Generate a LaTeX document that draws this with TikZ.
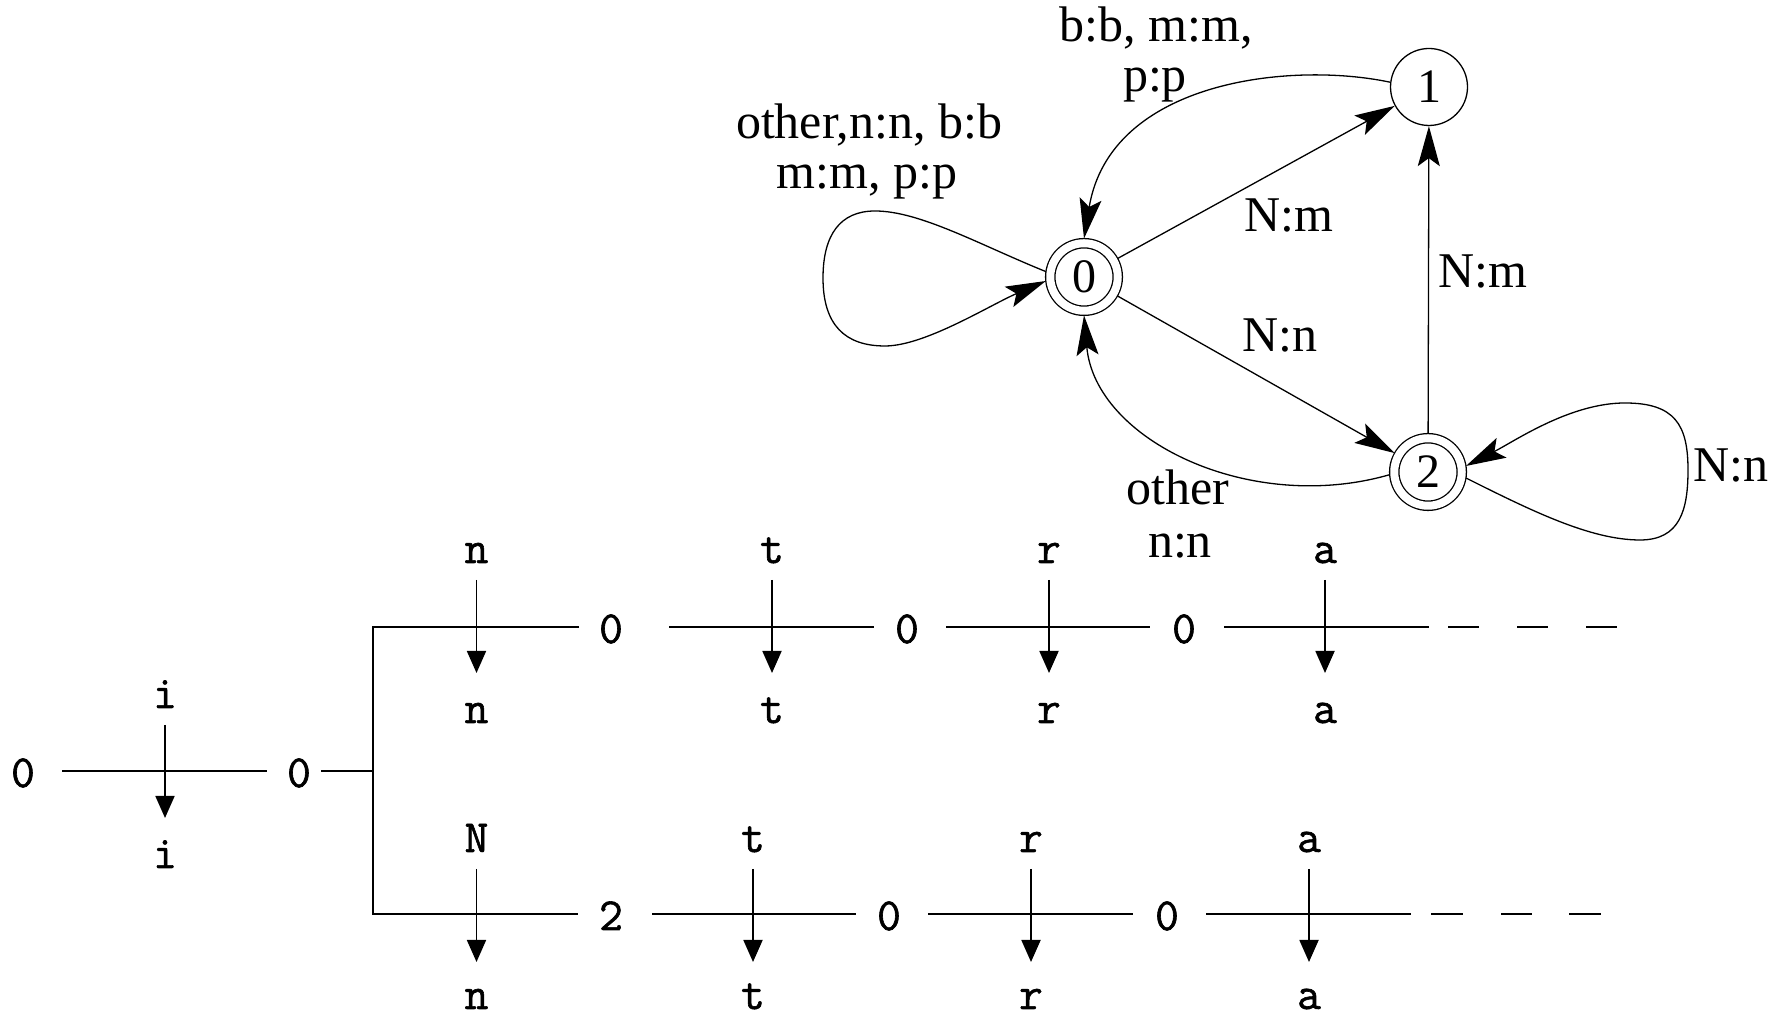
\documentclass[tikz,border=0pt]{standalone}
\usepackage{fontspec}
\setmainfont{Liberation Serif}
\newfontfamily\monofam[FakeBold=1.3]{Latin Modern Mono}
\usetikzlibrary{arrows.meta,calc}
\newcommand\monosize{\monofam\fontsize{46}{46}\selectfont}
\tikzset{garrowtip/.tip={Stealth[length=40pt,width=22pt,inset=8pt]}}
\begin{document}
\begin{tikzpicture}[x=1pt,y=1pt,
  gline/.style={line width=1.3pt},
  garrow/.style={gline,-garrowtip},
  state/.style={circle,draw,line width=1.3pt,minimum size=77pt,inner sep=0pt,outer sep=0.65pt,font=\fontsize{48}{48}\selectfont},
  fstate/.style={circle,draw,line width=1.3pt,double,double distance=8pt,minimum size=67.5pt,inner sep=0pt,outer sep=4.65pt,font=\fontsize{48}{48}\selectfont},
  glab/.style={font=\fontsize{50}{50}\selectfont,inner sep=0pt,anchor=base},
  digit/.style={font=\monosize,inner sep=0pt,text height=32pt,text depth=0pt},
  mabove/.style={font=\monosize,inner sep=0pt,text height=20pt,text depth=0pt,outer sep=17pt,anchor=base},
  mbelow/.style={font=\monosize,inner sep=0pt,text height=20pt,text depth=0pt,outer sep=30pt,anchor=base},
  mbelowlow/.style={font=\monosize,inner sep=0pt,text height=20pt,text depth=0pt,outer sep=27pt,anchor=base},
  hline/.style={line width=2.6pt},
  varrow/.style={line width=1.8pt,-{Triangle[length=22pt,width=19pt]}}
]
\useasboundingbox (0,0) rectangle (1788,1016);

% ---------- transducer graph ----------
\node[fstate] (n0) at (1084,739) {0};
\node[state]  (n1) at (1429,929) {1};
\node[fstate] (n2) at (1428,544) {2};

\draw[garrow] (n0) -- (n1);
\draw[garrow] (n0) -- (n2);
\draw[garrow] (n2) -- (n1);
\draw[garrow] (n1.173) .. controls (1290,955) and (1110,935) .. (n0.north);
\draw[garrow] (n2.184) .. controls (1250,501) and (1095,576) .. (n0.south);
\draw[garrow] (n0.172) .. controls (980,771) and (920,805) .. (875,805)
  .. controls (840,805) and (823,781) .. (823,738)
  .. controls (823,691) and (845,670) .. (885,670)
  .. controls (925,670) and (990,711) .. (n0.186);
\draw[garrow] (n2.-9) .. controls (1530,506) and (1590,476) .. (1640,476)
  .. controls (1680,476) and (1688,506) .. (1688,546)
  .. controls (1688,591) and (1675,613) .. (1625,613)
  .. controls (1570,613) and (1515,575) .. (n2.9);

\node[glab] (l10a) at (1156,974) {b:b, m:m,};
\node[glab] (l10b) at (1155,924) {p:p};
\node[glab] (l00a) at (869,877) {other,n:n, b:b};
\node[glab] (l00b) at (867,827) {m:m, p:p};
\node[glab] (l01) at (1289,784) {N:m};
\node[glab] (l21) at (1483,728.5) {N:m};
\node[glab] (l02) at (1280,664) {N:n};
\node[glab] (l22) at (1731,534) {N:n};
\node[glab] (l20a) at (1178,511) {other};
\node[glab] (l20b) at (1180,458) {n:n};

% ---------- lattice ----------
% middle row
\node[digit] (m0) at (23,245) {0};
\node[digit] (m1) at (299,245) {0};
\node[mabove] (mi1) at (165,308) {i};
\node[mbelow] (mi2) at (165,148) {i};
\draw[hline] ([xshift=39pt]m0.center) -- ([xshift=-32pt]m1.center);
\draw[varrow] (mi1.south) -- (mi2.north);
\coordinate (brM) at (373,245);
\coordinate (brT) at (373,389);
\coordinate (brB) at (373,102);

% top row
\node[digit] (t1) at (611,389) {0};
\node[digit] (t2) at (907,389) {0};
\node[digit] (t3) at (1184,389) {0};
\coordinate (tE) at (1619,389);
% bottom row
\node[digit] (b1) at (611,102) {2};
\node[digit] (b2) at (889,102) {0};
\node[digit] (b3) at (1167,102) {0};
\coordinate (bE) at (1601,102);

\draw[hline] ([xshift=22pt]m1.center) -- (brM);
\draw[hline] ([xshift=-32pt]t1.center) -- (brT) -- (brB) -- ([xshift=-33pt]b1.center);
\draw[hline] ([xshift=58pt]t1.center) -- ([xshift=-33pt]t2.center);
\draw[hline] ([xshift=39pt]t2.center) -- ([xshift=-34pt]t3.center);
\draw[hline,dash pattern=on 205pt off 19pt on 31pt off 38pt on 31pt off 38pt on 31pt off 60pt] ([xshift=40pt]t3.center) -- (tE);
\draw[hline] ([xshift=41pt]b1.center) -- ([xshift=-33pt]b2.center);
\draw[hline] ([xshift=39pt]b2.center) -- ([xshift=-34pt]b3.center);
\draw[hline,dash pattern=on 205pt off 20pt on 32pt off 38pt on 31pt off 37pt on 32pt off 60pt] ([xshift=39pt]b3.center) -- (bE);

% top row arrows
\node[mabove] (ta1) at (476.5,453) {n};
\node[mbelow] (tb1) at (476.5,293) {n};
\node[mabove] (ta2) at (772,453) {t};
\node[mbelow] (tb2) at (772,293) {t};
\node[mabove] (ta3) at (1049,453) {r};
\node[mbelow] (tb3) at (1049,293) {r};
\node[mabove] (ta4) at (1325,453) {a};
\node[mbelow] (tb4) at (1325,293) {a};
\foreach \k in {1,2,3,4} \draw[varrow] (ta\k.south) -- (tb\k.north);

% bottom row arrows
\node[mabove] (ba1) at (476.5,164) {N};
\node[mbelowlow] (bb1) at (476.5,7) {n};
\node[mabove] (ba2) at (753,164) {t};
\node[mbelowlow] (bb2) at (753,7) {t};
\node[mabove] (ba3) at (1031,164) {r};
\node[mbelowlow] (bb3) at (1031,7) {r};
\node[mabove] (ba4) at (1309,164) {a};
\node[mbelowlow] (bb4) at (1309,7) {a};
\foreach \k in {1,2,3,4} \draw[varrow] (ba\k.south) -- (bb\k.north);
\end{tikzpicture}
\end{document}
